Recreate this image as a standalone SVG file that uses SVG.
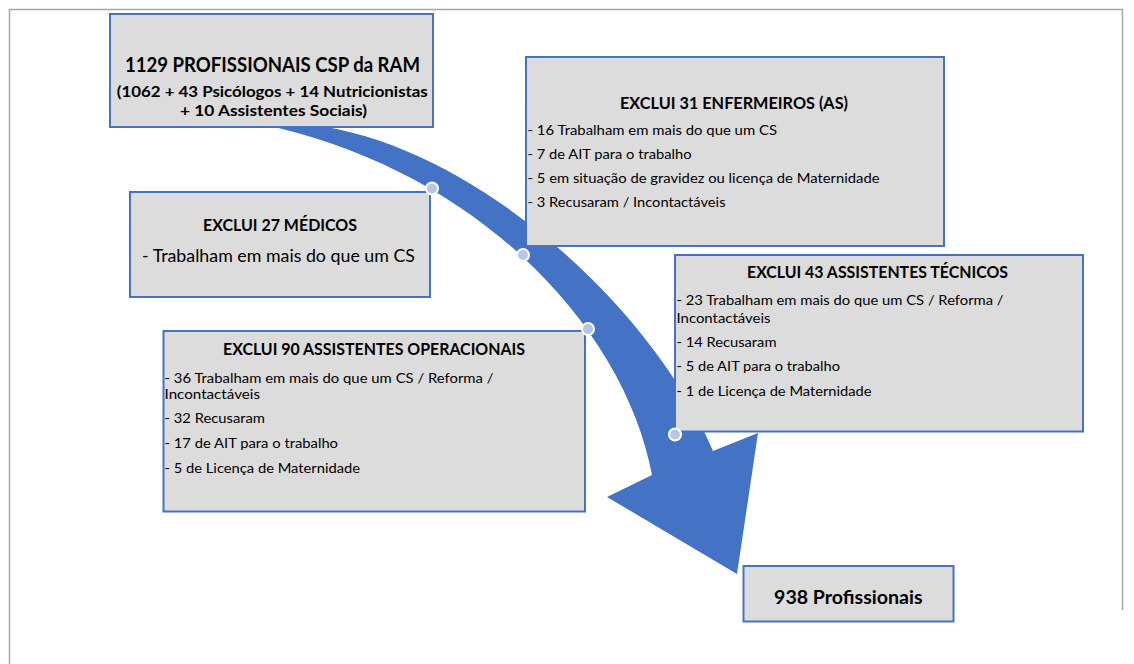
<svg xmlns="http://www.w3.org/2000/svg" width="1134" height="664" viewBox="0 0 1134 664">
<style>
.box{fill:#dcdcdc;stroke:#4472c4;stroke-width:2}
.t{font-family:Lato,"Open Sans","Liberation Sans",sans-serif;fill:#000}
.b{font-weight:bold}
.c{text-anchor:middle}
.body{font-size:13.2px}
.ttl{font-size:16.3px;font-weight:bold;text-anchor:middle}
.dot{fill:#b4c7e7;stroke:#ffffff;stroke-width:2}
</style>
<rect width="1134" height="664" fill="#ffffff"/>
<path d="M9.5 664 V9.5 H1122.5 V610" fill="none" stroke="#a6a6a6" stroke-width="1.5"/>
<g id="connectors">
<path d="M261 124 C480 170 625 330 652 475 L607 497 L737 574 L758 433 L713 451 C650 300 460 135 300 124 Z" fill="#4472c4"/>
</g>
<g id="node-start">
<rect class="box" x="110" y="14" width="323" height="113"/>
<text class="t b c" x="272.5" y="71.7" font-size="21" textLength="295" lengthAdjust="spacingAndGlyphs">1129 PROFISSIONAIS CSP da RAM</text>
<text class="t b c" x="272.3" y="97.3" font-size="14.3" textLength="311" lengthAdjust="spacingAndGlyphs">(1062 + 43 Psicólogos + 14 Nutricionistas</text>
<text class="t b c" x="273.5" y="116" font-size="14.3" textLength="187" lengthAdjust="spacingAndGlyphs">+ 10 Assistentes Sociais)</text>
</g>
<g id="node-enfermeiros">
<rect class="box" x="526" y="57" width="418" height="189"/>
<text class="t ttl" x="734" y="109.3" textLength="228" lengthAdjust="spacingAndGlyphs">EXCLUI 31 ENFERMEIROS (AS)</text>
<text class="t body" x="527.5" y="135" textLength="249.5" lengthAdjust="spacingAndGlyphs">- 16 Trabalham em mais do que um CS</text>
<text class="t body" x="527.5" y="159" textLength="164" lengthAdjust="spacingAndGlyphs">- 7 de AIT para o trabalho</text>
<text class="t body" x="527.5" y="183.3" textLength="352" lengthAdjust="spacingAndGlyphs">- 5 em situação de gravidez ou licença de Maternidade</text>
<text class="t body" x="527.5" y="207.3" textLength="198" lengthAdjust="spacingAndGlyphs">- 3 Recusaram / Incontactáveis</text>
</g>
<g id="node-medicos">
<rect class="box" x="130" y="192" width="300" height="105"/>
<text class="t ttl" x="280" y="230.7" textLength="154" lengthAdjust="spacingAndGlyphs">EXCLUI 27 MÉDICOS</text>
<text class="t c" x="278.5" y="261.7" font-size="16.3" textLength="273" lengthAdjust="spacingAndGlyphs">- Trabalham em mais do que um CS</text>
</g>
<g id="node-operacionais">
<rect class="box" x="163.5" y="331" width="421.5" height="180.5"/>
<text class="t ttl" x="374" y="355" textLength="302" lengthAdjust="spacingAndGlyphs">EXCLUI 90 ASSISTENTES OPERACIONAIS</text>
<text class="t body" x="164.5" y="383.3" textLength="329" lengthAdjust="spacingAndGlyphs">- 36 Trabalham em mais do que um CS / Reforma /</text>
<text class="t body" x="164.5" y="399" textLength="95.5" lengthAdjust="spacingAndGlyphs">Incontactáveis</text>
<text class="t body" x="164.5" y="423.3" textLength="100.5" lengthAdjust="spacingAndGlyphs">- 32 Recusaram</text>
<text class="t body" x="164.5" y="448.3" textLength="173.5" lengthAdjust="spacingAndGlyphs">- 17 de AIT para o trabalho</text>
<text class="t body" x="164.5" y="472.7" textLength="195.5" lengthAdjust="spacingAndGlyphs">- 5 de Licença de Maternidade</text>
</g>
<g id="node-tecnicos">
<rect class="box" x="675" y="255" width="408" height="176.5"/>
<text class="t ttl" x="877.5" y="278.3" textLength="261" lengthAdjust="spacingAndGlyphs">EXCLUI 43 ASSISTENTES TÉCNICOS</text>
<text class="t body" x="676.5" y="305" textLength="327" lengthAdjust="spacingAndGlyphs">- 23 Trabalham em mais do que um CS / Reforma /</text>
<text class="t body" x="676.5" y="322.7" textLength="94" lengthAdjust="spacingAndGlyphs">Incontactáveis</text>
<text class="t body" x="676.5" y="346.7" textLength="100" lengthAdjust="spacingAndGlyphs">- 14 Recusaram</text>
<text class="t body" x="676.5" y="370.7" textLength="163.5" lengthAdjust="spacingAndGlyphs">- 5 de AIT para o trabalho</text>
<text class="t body" x="676.5" y="395.7" textLength="195" lengthAdjust="spacingAndGlyphs">- 1 de Licença de Maternidade</text>
</g>
<g id="node-final">
<rect class="box" x="743.5" y="566" width="210" height="55.5"/>
<text class="t b c" x="848.3" y="604" font-size="18.6" textLength="148.5" lengthAdjust="spacingAndGlyphs">938 Profissionais</text>
</g>
<g id="markers">
<circle class="dot" cx="432" cy="188.5" r="6"/>
<circle class="dot" cx="523" cy="255" r="6"/>
<circle class="dot" cx="588" cy="329" r="6"/>
<circle class="dot" cx="675" cy="434.5" r="6"/>
</g>
</svg>
